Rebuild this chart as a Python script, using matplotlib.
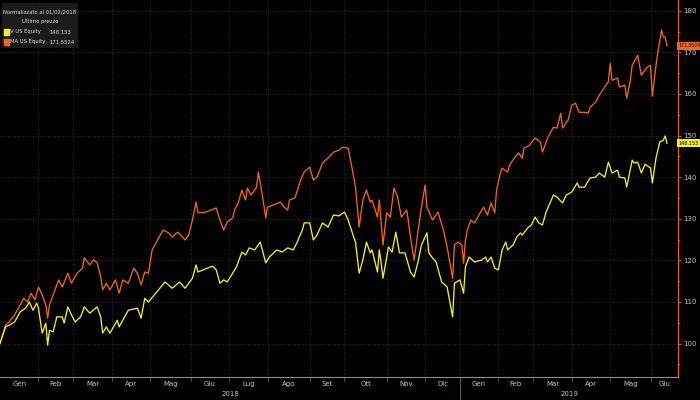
import matplotlib.pyplot as plt
import matplotlib.transforms as mtransforms
import numpy as np
import pandas as pd

# trading-session number since 2 Jan 2018 and normalised price (100 = start)
ma_day = [0, 3, 5, 8, 11, 13, 15, 17, 19, 21, 23, 25, 26, 27, 29, 32, 34, 37, 39, 42,
          45, 46, 49, 51, 53, 55, 56, 58, 60, 63, 65, 67, 70, 73, 75, 77, 79, 81, 83, 86,
          89, 92, 94, 97, 101, 103, 105, 107, 108, 111, 115, 118, 120, 122, 124, 127, 128, 130, 132, 134,
          135, 137, 140, 141, 143, 145, 146, 149, 153, 155, 157, 158, 161, 164, 166, 169, 171, 173, 176, 179,
          182, 185, 187, 190, 192, 194, 196, 198, 200, 202, 203, 206, 207, 208, 209, 211, 213, 215, 217, 219,
          222, 224, 226, 228, 230, 232, 233, 236, 239, 242, 244, 247, 248, 250, 252, 253, 254, 255, 257, 259,
          262, 264, 266, 268, 270, 271, 273, 274, 277, 278, 281, 283, 285, 286, 289, 292, 295, 296, 299, 302,
          304, 306, 307, 310, 312, 314, 316, 319, 321, 322, 325, 327, 330, 332, 333, 334, 337, 338, 341, 342,
          344, 345, 348, 350, 353, 355, 356, 358, 359, 361, 362, 363, 364]
ma_val = [100.0, 104.4, 105.2, 106.9, 109.3, 110.9, 110.0, 112.1, 110.5, 113.6, 111.7, 109.3, 106.1, 109.3, 111.7, 115.3, 113.6, 116.9, 114.5, 116.9,
          118.1, 120.6, 118.9, 120.1, 119.4, 116.0, 112.9, 114.5, 112.9, 115.3, 112.1, 115.3, 114.5, 118.1, 116.9, 114.1, 117.2, 116.9, 122.5, 124.9,
          127.3, 126.6, 125.6, 126.8, 124.9, 126.1, 129.7, 134.0, 131.6, 131.4, 132.1, 132.6, 129.7, 127.3, 129.2, 130.2, 132.1, 133.8, 136.9, 134.5,
          137.4, 135.7, 137.6, 141.2, 136.2, 130.2, 132.8, 133.3, 134.0, 132.8, 132.1, 134.5, 135.0, 139.3, 141.2, 142.4, 139.3, 140.0, 143.4, 144.6,
          146.0, 146.5, 147.2, 147.0, 142.4, 137.6, 128.0, 134.5, 136.9, 134.0, 134.5, 130.4, 134.5, 129.0, 123.7, 131.4, 130.4, 137.4, 135.2, 130.4,
          132.1, 125.6, 120.1, 126.6, 132.8, 138.1, 132.8, 129.7, 131.6, 127.3, 123.2, 115.7, 123.7, 124.4, 123.7, 119.3, 124.9, 127.3, 129.7, 129.0,
          131.4, 132.8, 130.9, 133.8, 131.4, 136.9, 140.9, 142.2, 141.2, 142.9, 144.8, 145.8, 144.6, 147.0, 147.7, 149.4, 148.4, 146.0, 149.6, 152.0,
          151.8, 155.4, 151.8, 153.7, 157.3, 157.8, 155.6, 155.6, 155.4, 156.8, 158.0, 159.7, 161.7, 162.9, 167.4, 163.3, 163.8, 161.7, 162.1, 159.0,
          163.3, 166.9, 169.3, 164.5, 166.4, 166.9, 159.5, 166.9, 170.1, 175.4, 173.7, 173.7, 171.5524]

v_day = [0, 3, 5, 8, 11, 14, 16, 18, 20, 21, 23, 25, 26, 27, 29, 31, 34, 35, 37, 39,
         41, 44, 46, 49, 53, 55, 56, 58, 60, 64, 65, 70, 75, 77, 79, 81, 85, 90, 94, 98,
         101, 105, 107, 108, 113, 116, 118, 120, 122, 124, 128, 129, 132, 134, 136, 139, 142, 145, 147, 151,
         154, 157, 160, 162, 165, 166, 169, 171, 173, 176, 179, 182, 185, 188, 190, 193, 194, 196, 198, 200,
         202, 203, 206, 207, 208, 209, 212, 214, 216, 218, 221, 224, 226, 228, 230, 233, 234, 236, 238, 241,
         244, 247, 248, 251, 253, 254, 256, 259, 263, 265, 266, 268, 270, 272, 274, 276, 277, 280, 282, 284,
         285, 288, 290, 292, 294, 296, 298, 302, 304, 307, 309, 312, 315, 316, 319, 322, 325, 327, 330, 332,
         334, 337, 338, 341, 342, 345, 346, 348, 350, 352, 355, 356, 358, 360, 362, 363, 364]
v_val = [100.0, 104.0, 104.4, 105.2, 107.6, 108.5, 110.0, 108.0, 109.7, 108.5, 102.5, 104.9, 99.6, 103.2, 102.8, 106.4, 106.4, 104.9, 108.8, 106.9,
         105.2, 106.4, 108.8, 107.3, 108.8, 106.4, 102.5, 104.0, 102.5, 105.6, 104.0, 108.0, 108.5, 106.1, 110.9, 110.0, 112.1, 114.8, 113.3, 114.8,
         113.3, 115.7, 118.9, 117.2, 118.1, 118.6, 117.7, 114.5, 115.3, 114.8, 117.7, 118.4, 122.0, 121.3, 123.0, 122.5, 124.4, 119.4, 120.8, 122.5,
         122.0, 123.0, 122.5, 124.2, 127.3, 129.0, 129.0, 124.9, 126.1, 129.0, 128.0, 130.9, 130.7, 131.6, 129.7, 125.6, 124.4, 116.9, 120.1, 124.4,
         121.8, 122.5, 117.2, 122.5, 119.4, 115.7, 123.2, 122.0, 126.8, 121.8, 121.8, 117.2, 116.0, 119.4, 123.7, 126.6, 121.8, 120.6, 119.6, 114.8,
         113.6, 106.4, 114.5, 115.3, 112.1, 118.4, 120.8, 119.6, 120.1, 120.8, 119.6, 120.8, 118.1, 117.7, 122.5, 124.4, 122.5, 123.7, 125.6, 126.6,
         126.1, 127.8, 128.5, 130.4, 129.0, 128.5, 131.6, 135.7, 135.2, 133.8, 135.7, 136.4, 138.6, 137.6, 137.6, 139.8, 140.0, 141.0, 140.0, 143.6,
         141.0, 141.7, 140.0, 139.8, 137.6, 144.1, 143.4, 143.6, 141.0, 143.1, 142.2, 138.6, 144.6, 148.4, 148.9, 149.9, 148.153]

month_names = ['Gen', 'Feb', 'Mar', 'Apr', 'Mag', 'Giu', 'Lug', 'Ago', 'Set', 'Ott', 'Nov', 'Dic',
               'Gen', 'Feb', 'Mar', 'Apr', 'Mag', 'Giu']
years = ['2018', '2019']
nyse_holidays = ['2018-01-15', '2018-02-19', '2018-03-30', '2018-05-28', '2018-07-04',
                 '2018-09-03', '2018-11-22', '2018-12-05', '2018-12-25', '2019-01-01',
                 '2019-01-21', '2019-02-18', '2019-04-19', '2019-05-27']

ORANGE = '#f0661e'
YELLOW = '#f2ee2a'
GRID = '#3c3c3c'
TXT = '#c4c4c4'
plt.rcParams['font.family'] = ['DejaVu Sans']
FS = 5.0

# trading calendar, so the x axis runs in sessions like the terminal does
sessions = pd.bdate_range('2018-01-02', '2019-07-01', freq='C', holidays=nyse_holidays)
x_end = 370
month_id = sessions.year * 12 + sessions.month
starts = [0] + list(np.nonzero(np.diff(month_id))[0] + 1)
starts = [s for s in starts if s < x_end]
bounds = starts + [x_end]
mids = [(bounds[i] + bounds[i + 1]) / 2 for i in range(len(starts))]
year_start = [i for i in starts if sessions[i].month == 1]
year_bounds = year_start + [x_end]

fig = plt.figure(figsize=(7, 4), dpi=100, facecolor='black')
ax = fig.add_axes([0, 23 / 400, 678 / 700, 377 / 400])
ax.set_facecolor('black')

ax.plot(ma_day, ma_val, color=ORANGE, lw=0.95)
ax.plot(v_day, v_val, color=YELLOW, lw=0.95)

ax.set_xlim(0, x_end)
ax.set_ylim(91.95, 182.6)

for s in ['top', 'left']:
    ax.spines[s].set_visible(False)
ax.spines['right'].set_color(ORANGE)
ax.spines['right'].set_linewidth(0.8)
ax.spines['bottom'].set_color('#9a9a2e')
ax.spines['bottom'].set_linewidth(0.8)

ax.yaxis.tick_right()
ax.set_yticks(np.arange(100, 181, 10))
ax.set_yticks(np.arange(95, 181, 5), minor=True)
ax.tick_params(axis='y', which='both', colors=ORANGE, labelcolor=TXT, labelsize=FS,
               length=2, width=0.6, pad=1.5)
ax.tick_params(axis='y', which='minor', length=1.5)

ax.set_xticks(starts[1:])
ax.set_xticks(mids, minor=True)
ax.set_xticklabels([])
ax.set_xticklabels(month_names[:len(mids)], minor=True)
ax.tick_params(axis='x', which='major', colors='#6a6a2a', length=3, width=0.6)
ax.tick_params(axis='x', which='minor', length=0, labelcolor=TXT, labelsize=FS, pad=3)

ax.grid(True, which='major', color=GRID, linestyle=(0, (1, 2)), linewidth=0.6)

trans = mtransforms.blended_transform_factory(ax.transData, ax.transAxes)
for i, yr in enumerate(years):
    ax.text((year_bounds[i] + year_bounds[i + 1]) / 2, -0.045, yr, transform=trans,
            ha='center', va='center', fontsize=FS, color=TXT)
for b in year_start[1:]:
    ax.plot([b, b], [0, -0.07], transform=trans, color='#6a6a2a', lw=0.6, clip_on=False)

# last price tags on the right axis
rtrans = mtransforms.blended_transform_factory(ax.transAxes, ax.transData)
ax.text(1.001, ma_val[-1], f'{ma_val[-1]:.4f}', transform=rtrans, ha='left', va='center',
        fontsize=3.3, color='black',
        bbox=dict(boxstyle='square,pad=0.3', fc=ORANGE, ec='none'))
ax.text(1.001, v_val[-1], f'{v_val[-1]:.3f}', transform=rtrans, ha='left', va='center',
        fontsize=3.5, color='black',
        bbox=dict(boxstyle='square,pad=0.3', fc=YELLOW, ec='none'))

# legend panel
lg = fig.add_axes([2 / 700, 1 - 48 / 400, 76 / 700, 45 / 400])
lg.set_facecolor('#1b1b1b')
lg.set_xticks([])
lg.set_yticks([])
for s in lg.spines.values():
    s.set_visible(False)
lg.set_xlim(0, 76)
lg.set_ylim(45, 0)
lg.text(38, 9, 'Normalizzato al 01/02/2018', ha='center', va='center', fontsize=3.8, color='#e0e0e0')
lg.text(38, 19, 'Ultimo prezzo', ha='center', va='center', fontsize=3.8, color='#e0e0e0')
legend_rows = [('V US Equity', f'{v_val[-1]:.3f}', YELLOW), ('MA US Equity', f'{ma_val[-1]:.4f}', ORANGE)]
for k, (name, last, col) in enumerate(legend_rows):
    yy = 29 + k * 10
    lg.add_patch(plt.Rectangle((1.5, yy - 3), 5, 6, color=col))
    lg.text(8.5, yy, name, ha='left', va='center', fontsize=3.8, color='#e0e0e0')
    lg.text(47, yy, last, ha='left', va='center', fontsize=3.8, color='#e0e0e0')

fig.savefig('out.png', dpi=100, facecolor='black')
